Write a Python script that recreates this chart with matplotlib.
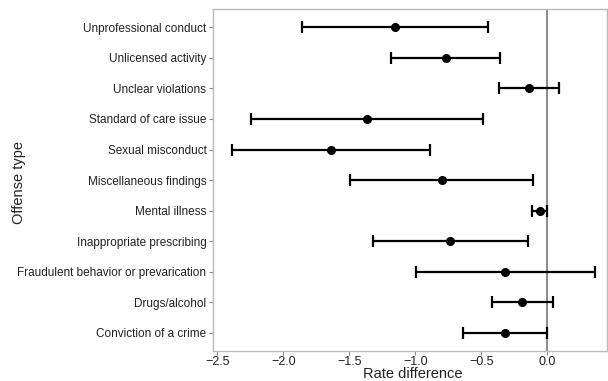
import matplotlib
matplotlib.use("Agg")
from matplotlib import pyplot as plt

plt.rcParams['font.family'] = ['Liberation Sans', 'DejaVu Sans']

# bottom to top
offenses = ["Conviction of a crime", "Drugs/alcohol",
            "Fraudulent behavior or prevarication", "Inappropriate prescribing",
            "Mental illness", "Miscellaneous findings", "Sexual misconduct",
            "Standard of care issue", "Unclear violations", "Unlicensed activity",
            "Unprofessional conduct"]
estimate = [-0.321, -0.191, -0.321, -0.734, -0.057, -0.799, -1.641, -1.367, -0.140, -0.771, -1.154]
lower = [-0.641, -0.419, -0.995, -1.322, -0.113, -1.493, -2.39, -2.244, -0.367, -1.181, -1.86]
upper = [0.0, 0.043, 0.357, -0.148, -0.005, -0.106, -0.89, -0.487, 0.086, -0.362, -0.452]

fig = plt.figure(figsize=(6.08, 3.81), dpi=100)
ax = fig.add_axes([0.351, 0.079, 0.647, 0.897])

ys = list(range(len(offenses)))
err_lo = [e - l for e, l in zip(estimate, lower)]
err_hi = [u - e for e, u in zip(estimate, upper)]

ax.axvline(0, color='#777777', lw=1.2, zorder=1)
ax.errorbar(estimate, ys, xerr=[err_lo, err_hi], fmt='o', color='black',
            ms=5.5, elinewidth=1.6, capsize=4, capthick=1.6, zorder=3)

ax.set_xlim(-2.53, 0.45)
ax.set_ylim(-0.6, len(offenses) - 0.4)
ax.set_xticks([-2.5, -2.0, -1.5, -1.0, -0.5, 0.0])
ax.set_xticklabels(['\u22122.5', '\u22122.0', '\u22121.5', '\u22121.0', '\u22120.5', '0.0'])
ax.set_yticks(ys)
ax.set_yticklabels(offenses)

for s in ax.spines.values():
    s.set_color('#bbbbbb')
    s.set_linewidth(1.0)
ax.tick_params(axis='both', colors='#888888', length=3, width=0.8,
               labelsize=8.5, labelcolor='#222222', pad=2)
ax.tick_params(axis='x', labelsize=9, pad=0.5)

fig.text(413 / 608, 2.5 / 381, 'Rate difference', fontsize=10.5,
         color='#222222', ha='center', va='baseline')
fig.text(19 / 608, 0.5 + 0.02, 'Offense type', fontsize=10.5, rotation=90,
         color='#222222', ha='center', va='center')

fig.savefig('out.png', dpi=100)
